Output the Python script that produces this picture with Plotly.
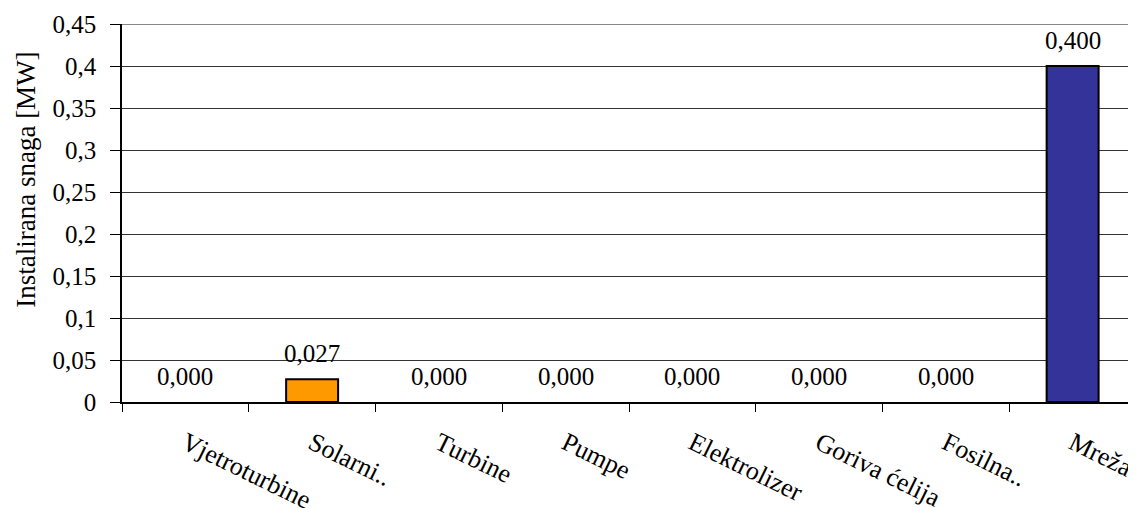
import plotly.graph_objects as go

categories = ["Vjetroturbine", "Solarni..", "Turbine", "Pumpe", "Elektrolizer",
              "Goriva ćelija", "Fosilna..", "Mreža"]
values = [0.0, 0.027, 0.0, 0.0, 0.0, 0.0, 0.0, 0.400]
bar_colors = ["#FF9900", "#FF9900", "#FF9900", "#FF9900", "#FF9900",
              "#FF9900", "#FF9900", "#333399"]
y_title = "Instalirana snaga [MW]"

FONT = "Liberation Serif, Times New Roman, serif"
OFF = 8  # default page body margin
W, H = 1136 - OFF, 508 - OFF
L, R, T, B = 122 - OFF, 0, 23.5 - OFF, 106
plot_h = H - T - B
plot_w = W - L - R

fig = go.Figure()
fig.add_trace(go.Bar(
    x=categories, y=values,
    marker=dict(color=bar_colors,
                line=dict(color="black", width=[2 if v > 0 else 0 for v in values])),
    width=0.41,
    hoverinfo="skip",
))

for c, v in zip(categories, values):
    fig.add_annotation(x=c, y=v, text=f"{v:.3f}".replace(".", ","),
                       showarrow=False, yanchor="bottom", yshift=10,
                       font=dict(family=FONT, size=25, color="black"))

fig.add_annotation(xref="paper", yref="paper",
                   x=(26.5 - OFF - L) / plot_w, y=(H - B - (180 - OFF)) / plot_h,
                   text=y_title, textangle=-90, showarrow=False,
                   xanchor="center", yanchor="middle",
                   font=dict(family=FONT, size=27, color="black"))

fig.update_layout(
    width=W, height=H,
    margin=dict(l=L, r=R, t=T, b=B, pad=0, autoexpand=False),
    paper_bgcolor="white", plot_bgcolor="white",
    separators=",.",
    showlegend=False,
    font=dict(family=FONT, size=25, color="black"),
    shapes=[dict(type="line", xref="paper", yref="y", x0=0, x1=1, y0=0.45, y1=0.45,
                 line=dict(color="#888888", width=2))],
)
fig.update_yaxes(
    range=[0, 0.45], dtick=0.05, tick0=0, automargin=False,
    showgrid=True, gridcolor="#333333", gridwidth=1,
    showline=True, linecolor="black", linewidth=1.5,
    ticks="outside", ticklen=10, tickcolor="black", tickwidth=1,
    ticklabelstandoff=9,
    zeroline=False,
    tickfont=dict(family=FONT, size=25, color="black"),
)
fig.update_xaxes(
    automargin=False,
    showline=True, linecolor="black", linewidth=2,
    ticks="outside", tickson="boundaries", ticklen=8, tickcolor="black", tickwidth=1,
    tickangle=26,
    showgrid=False,
    tickfont=dict(family=FONT, size=26, color="black"),
    ticklabelstandoff=14,
)

fig.write_html("out.html")
